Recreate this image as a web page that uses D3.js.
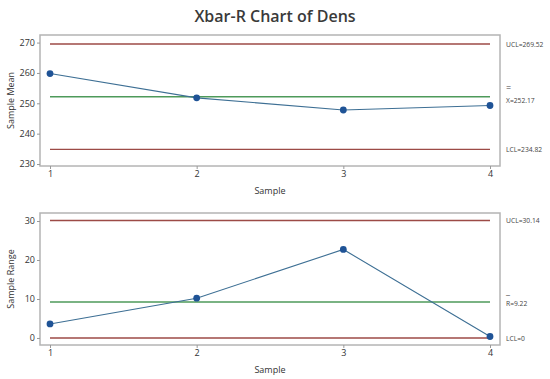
<!DOCTYPE html>
<html><head><meta charset="utf-8">
<script src="https://cdn.jsdelivr.net/npm/d3@7"></script>
<style>body{margin:0;background:#fff}svg{display:block}text{font-family:"Open Sans","Noto Sans",sans-serif;fill:#333}</style>
</head><body><svg id="c" width="550" height="379"></svg>
<script>
const samples = [1, 2, 3, 4];
const meanValues = [259.8, 251.8, 247.8, 249.28];
const rangeValues = [3.6, 10.2, 22.7, 0.38];
const meanTicks = [230, 240, 250, 260, 270];
const rangeTicks = [0, 10, 20, 30];
const meanLimits = {ucl: 269.52, center: 252.17, lcl: 234.82};
const rangeLimits = {ucl: 30.14, center: 9.22, lcl: 0};
const meanLabels = ["UCL=269.52", "X=252.17", "LCL=234.82"];
const rangeLabels = ["UCL=30.14", "R=9.22", "LCL=0"];

const svg = d3.select("#c");
svg.append("text").attr("x", 275).attr("y", 22).attr("text-anchor", "middle")
  .style("font-size", "16px").style("font-weight", "600").style("fill", "#3a3a3a")
  .text("Xbar-R Chart of Dens");

const x = d3.scaleLinear().domain([1, 4]).range([50, 490]);

function rlabel(g, xx, yy, txt) {
  const t = g.append("text").attr("x", xx).attr("y", yy).style("font-size", "8px").style("fill", "#444").text(txt);
  const w = t.node().getComputedTextLength();
  t.attr("textLength", w * 0.84).attr("lengthAdjust", "spacingAndGlyphs");
  return t;
}

function panel(top, bottom, domain, ticks, values, lim, labels, ylabel, barMark) {
  const y = d3.scaleLinear().domain(domain).range([bottom, top]);
  const g = svg.append("g");
  g.append("rect").attr("x", 40).attr("y", top).attr("width", 460).attr("height", bottom - top)
    .attr("fill", "none").attr("stroke", "#b4b4b4").attr("stroke-width", 1.5);
  const ya = g.append("g").attr("transform", "translate(40,0)")
    .call(d3.axisLeft(y).tickValues(ticks).tickSize(3).tickPadding(2));
  ya.select(".domain").remove();
  ya.selectAll("line").attr("stroke", "#999");
  ya.selectAll("text").style("font-size", "9px").style("fill", "#333");
  const xa = g.append("g").attr("transform", `translate(0,${bottom})`)
    .call(d3.axisBottom(x).tickValues(samples).tickFormat(d3.format("d")).tickSize(3).tickPadding(2));
  xa.select(".domain").remove();
  xa.selectAll("line").attr("stroke", "#999");
  xa.selectAll("text").style("font-size", "9px").style("fill", "#333");
  const limVals = [lim.ucl, lim.center, lim.lcl];
  const limCols = ["#9c4a46", "#4e9a5a", "#9c4a46"];
  limVals.forEach((v, i) => {
    g.append("line").attr("x1", x(1)).attr("x2", x(4)).attr("y1", y(v)).attr("y2", y(v))
      .attr("stroke", limCols[i]).attr("stroke-width", 1.4);
  });
  g.append("path").datum(values)
    .attr("d", d3.line().x((d, i) => x(samples[i])).y(d => y(d)))
    .attr("fill", "none").attr("stroke", "#3d6f94").attr("stroke-width", 1.1);
  g.selectAll("circle").data(values).join("circle")
    .attr("cx", (d, i) => x(samples[i])).attr("cy", d => y(d)).attr("r", 3.4)
    .attr("fill", "#1f5396");
  const lx = 506;
  rlabel(g, lx, y(lim.ucl) + 3, labels[0]);
  rlabel(g, lx, y(lim.center) + (barMark === "=" ? 6 : 4), labels[1]);
  g.append("text").attr("x", lx).attr("y", y(lim.center) + (barMark === "=" ? -6 : -8))
    .style("font-size", "9px").style("fill", "#444").text(barMark);
  rlabel(g, lx, y(lim.lcl) + 3, labels[2]);
  g.append("text").attr("transform", `translate(14,${(top + bottom) / 2}) rotate(-90)`)
    .attr("text-anchor", "middle").style("font-size", "9px").text(ylabel);
  g.append("text").attr("x", 270).attr("y", bottom + 28).attr("text-anchor", "middle")
    .style("font-size", "9px").text("Sample");
}

panel(35, 166, [229.35, 272.5], meanTicks, meanValues, meanLimits, meanLabels, "Sample Mean", "=");
panel(213, 345, [-1.8, 32.05], rangeTicks, rangeValues, rangeLimits, rangeLabels, "Sample Range", "_");
</script></body></html>
